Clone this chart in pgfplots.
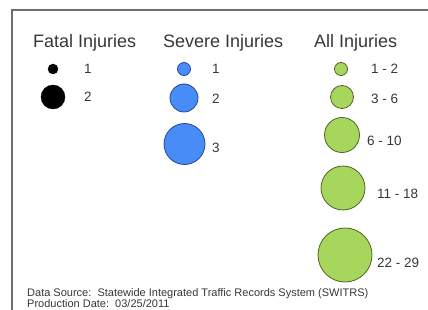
\documentclass[border=0pt]{standalone}
\usepackage{pgfplots}
\pgfplotsset{compat=1.18}
\usepackage{pgfplotstable}
\usepackage{fontspec}
\setmainfont{Liberation Sans}
\definecolor{fatal}{RGB}{0,0,0}
\definecolor{severe}{RGB}{72,140,248}
\definecolor{severeE}{RGB}{40,70,150}
\definecolor{allinj}{RGB}{166,214,92}
\definecolor{allinjE}{RGB}{80,100,40}
\definecolor{txt}{RGB}{55,55,55}
\definecolor{frame}{RGB}{110,110,110}

\pgfplotstableread{
x y r
53 69 5
53 97 12
}\fatal
\pgfplotstableread{
x y r
184 69 6.5
184 98 14
184.5 144 20.5
}\severe
\pgfplotstableread{
x y r
341 69 6.5
342 97 11.5
342 135 17.5
343 188 22
345 255 27
}\allinj

\begin{document}
\begin{tikzpicture}
\begin{axis}[
  name=ax,
  width=428pt, height=310pt, scale only axis,
  xmin=0, xmax=428, ymin=0, ymax=310, y dir=reverse,
  hide axis, clip=false,
  visualization depends on={\thisrow{r} \as \rad},
]
\addplot[scatter, only marks, mark=*,
  scatter/use mapped color={draw=fatal, fill=fatal},
  scatter/@pre marker code/.append style={/tikz/mark size=\rad pt}] table[x=x,y=y] {\fatal};
\addplot[scatter, only marks, mark=*,
  scatter/use mapped color={draw=severeE, fill=severe, line width=0.8pt},
  scatter/@pre marker code/.append style={/tikz/mark size=\rad pt}] table[x=x,y=y] {\severe};
\addplot[scatter, only marks, mark=*,
  scatter/use mapped color={draw=allinjE, fill=allinj, line width=0.8pt},
  scatter/@pre marker code/.append style={/tikz/mark size=\rad pt}] table[x=x,y=y] {\allinj};

\draw[frame, line width=1.5pt] (axis cs:12,310) -- (axis cs:12,10) -- (axis cs:428,10);

\begin{scope}[every node/.style={inner sep=0pt, anchor=base west, text=txt}]
\node[font=\fontsize{18}{20}\selectfont] at (axis cs:33,47.5) {Fatal Injuries};
\node[font=\fontsize{18}{20}\selectfont] at (axis cs:163,47.5) {Severe Injuries};
\node[font=\fontsize{18}{20}\selectfont] at (axis cs:314,47.5) {All Injuries};

\node[font=\fontsize{13.5}{15}\selectfont] at (axis cs:84,74) {1};
\node[font=\fontsize{13.5}{15}\selectfont] at (axis cs:84,102) {2};
\node[font=\fontsize{13.5}{15}\selectfont] at (axis cs:212,74) {1};
\node[font=\fontsize{13.5}{15}\selectfont] at (axis cs:212,103) {2};
\node[font=\fontsize{13.5}{15}\selectfont] at (axis cs:212,153) {3};
\node[font=\fontsize{13.5}{15}\selectfont] at (axis cs:371,74) {1 - 2};
\node[font=\fontsize{13.5}{15}\selectfont] at (axis cs:371,104) {3 - 6};
\node[font=\fontsize{13.5}{15}\selectfont] at (axis cs:367,145) {6 - 10};
\node[font=\fontsize{13.5}{15}\selectfont] at (axis cs:377,198) {11 - 18};
\node[font=\fontsize{13.5}{15}\selectfont] at (axis cs:377,267) {22 - 29};

\node[font=\fontsize{11}{12}\selectfont] at (axis cs:27,296.5) {Data Source:\ \ Statewide Integrated Traffic Records System (SWITRS)};
\node[font=\fontsize{11}{12}\selectfont] at (axis cs:27,307.5) {Production Date:\ \ 03/25/2011};
\end{scope}
\end{axis}
\pgfresetboundingbox
\path[use as bounding box] (ax.south west) rectangle (ax.north east);
\end{tikzpicture}
\end{document}
